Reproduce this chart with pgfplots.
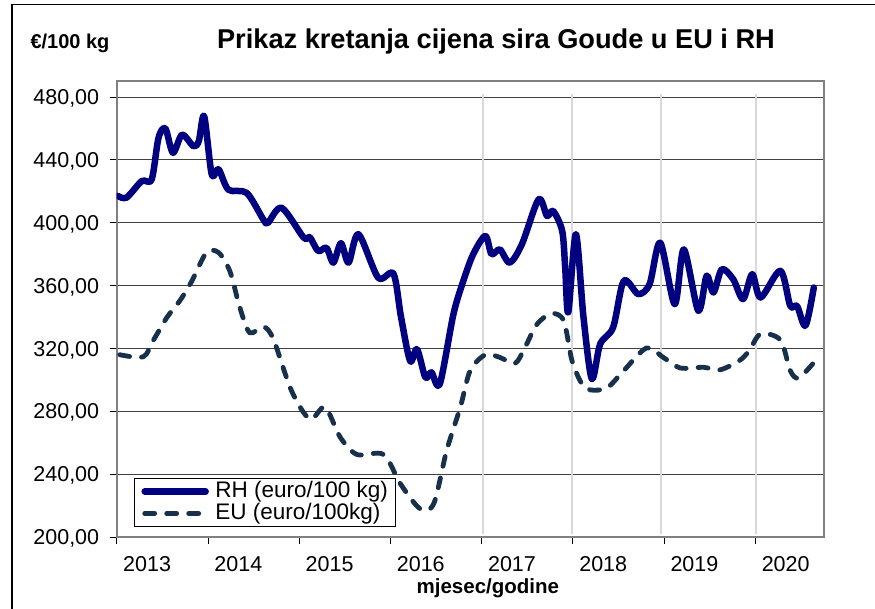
\documentclass[border=0pt]{standalone}
\usepackage{fontspec}
\setmainfont{Liberation Sans}
\usepackage{pgfplots}
\pgfplotsset{compat=1.18}
\definecolor{rhcol}{HTML}{000080}
\definecolor{eucol}{HTML}{17304C}
\begin{document}
\begin{tikzpicture}
\useasboundingbox (0pt,0pt) rectangle (875pt,608pt);
\draw[black, line width=1.2pt] (12pt,-5pt) -- (12pt,603.5pt) -- (880pt,603.5pt);
\node[font=\fontsize{20}{24}\selectfont\bfseries, anchor=base west] at (27pt,559pt) {€/100 kg};
\begin{axis}[
  at={(116.7pt,71pt)}, anchor=south west,
  scale only axis, width=707pt, height=455.7pt,
  xmin=0, xmax=93, ymin=200, ymax=490,
  axis line style={draw=black!50, line width=1.6pt},
  ytick={200,240,...,480},
  xtick={0,12,...,84},
  xticklabels={2013,2014,2015,2016,2017,2018,2019,2020},
  tick align=outside, tick pos=left,
  major tick length=7pt,
  tick style={black, line width=0.8pt},
  ymajorgrids, major grid style={black!75, line width=1pt},
  /pgf/number format/assume math mode=true,
  y tick label style={anchor=base east, xshift=-7pt, yshift=-7.7pt, /pgf/number format/fixed, /pgf/number format/fixed zerofill, /pgf/number format/precision=2, /pgf/number format/use comma, /pgf/number format/1000 sep={}},
  tick label style={font=\fontsize{21.5}{25}\selectfont},
  x tick label style={anchor=base, xshift=30.4pt, yshift=-27pt},
  title={Prikaz kretanja cijena sira Goude u EU i RH},
  title style={font=\fontsize{27.2}{30}\selectfont\bfseries, at={(rel axis cs:0.5365,1)}, anchor=base, yshift=27pt},
  xlabel={mjesec/godine},
  xlabel style={font=\fontsize{20.5}{24}\selectfont\bfseries, at={(rel axis cs:0.525,0)}, anchor=base, yshift=-56pt},
  legend style={at={(0.0245,0.022)}, anchor=south west, draw=black, line width=0.8pt,
    font=\fontsize{22.5}{22.5}\selectfont, inner xsep=7pt, inner ysep=2pt,
    nodes={inner sep=0.5pt, text depth=4.5pt, text height=16.5pt}, cells={anchor=west}},
  legend image code/.code={\draw[#1] (0pt,0pt) -- (61pt,0pt); \path (67pt,0pt);},
]
\addplot[forget plot, black!15, line width=1.5pt] coordinates {(48.2,202) (48.2,482)};
\addplot[forget plot, black!15, line width=1.5pt] coordinates {(59.9,202) (59.9,482)};
\addplot[forget plot, black!15, line width=1.5pt] coordinates {(71.6,202) (71.6,482)};
\addplot[forget plot, black!15, line width=1.5pt] coordinates {(84.1,202) (84.1,482)};

\addplot[rhcol, line width=6.5pt, line cap=round, line join=round, smooth, tension=0.5] coordinates {
(0.2,417) (1.3,416) (3.3,426.5) (4.6,427.6) (5.5,454) (6.4,460) (7.4,444.5) (8.6,456)
(10.1,448.7) (10.8,452) (11.5,467.8) (12.5,430.8) (13.4,434) (14.7,421) (17.1,419)
(19.3,402) (19.9,400) (21.7,409.5) (24.6,390.5) (25.4,390.8) (26.5,382) (27.6,384)
(28.5,374.6) (29.5,387) (30.5,374.6) (31.8,392.7) (34.4,365) (36.4,367.6) (37.4,340)
(38.6,312) (39.5,319.6) (40.6,301.6) (41.4,304.8) (42.5,297.4) (44.3,341.9) (45.6,363)
(46.9,380) (48.5,391.6) (49.3,380) (50.4,383) (51.7,374.6) (53.3,386.3) (55.5,414.9)
(56.6,404.3) (57.4,407.5) (58.6,394.8) (59.0,371) (59.4,343) (60.4,392.7) (61.4,340)
(62.5,300.6) (63.6,322.8) (65.3,333.4) (66.7,363) (68.6,354.6) (70.1,361) (71.5,387.3)
(73.4,348.2) (74.6,383) (76.5,344) (77.6,366.2) (78.5,355.6) (79.6,370.4) (81.1,364)
(82.4,351.4) (83.6,367.3) (84.7,352.4) (87.3,369.4) (88.6,347.1) (89.5,347) (90.6,334.4)
(91.7,358.8)};
\addlegendentry{RH (euro/100 kg)}

\addplot[eucol, line width=4.8pt, line cap=round, dash pattern=on 10pt off 12pt, smooth, tension=0.5] coordinates {
(0.4,316) (3.5,314.7) (4.8,325) (6.6,339.7) (8.3,350.3) (9.9,363) (11.8,381) (13.4,381)
(14.9,369) (16.2,346) (17.5,330) (19.3,333.8) (20.6,326) (23.0,293) (25.4,275)
(27.4,282.6) (29.4,263.5) (31.6,252.5) (35.1,252.5) (37.3,234) (39.9,218) (41.7,221.2)
(43.4,255) (45.2,282.6) (46.5,305.9) (48.5,316) (50.4,314.3) (52.4,310.5) (53.7,320.6)
(55.3,335.5) (57.2,342.2) (58.8,337.6) (59.9,312) (61.2,297.4) (62.3,293.6) (64.5,294.9)
(66.7,305.9) (69.7,320.3) (71.9,314.3) (74.1,307.6) (77.2,308) (79.3,306.3) (81.9,312.2)
(83.2,318.6) (84.7,329.2) (87.3,325.4) (88.6,305.9) (89.7,301.2) (91.7,311)};
\addlegendentry{EU (euro/100kg)}
\end{axis}
\end{tikzpicture}
\end{document}
